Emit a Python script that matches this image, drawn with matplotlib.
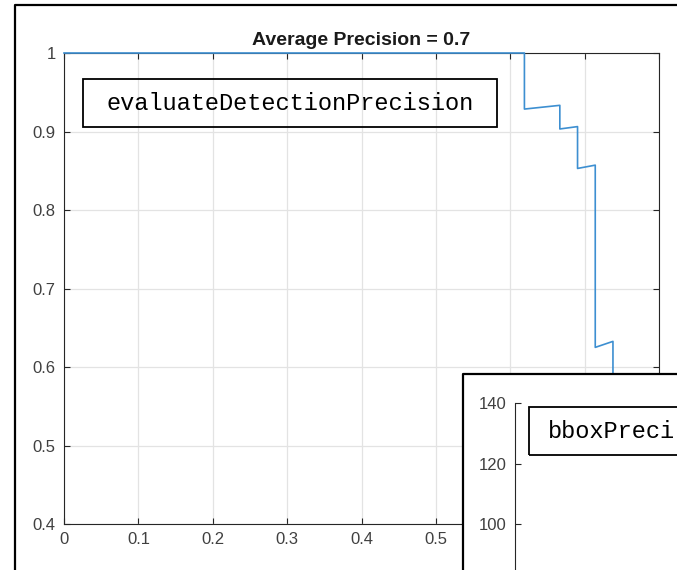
import numpy as np
import matplotlib
matplotlib.use("Agg")
import matplotlib.pyplot as plt
from matplotlib.patches import Rectangle
from matplotlib.lines import Line2D

# precision / recall points (42 ground truth boxes)
recall = [0.0, 26/42, 26/42, 28/42, 28/42, 29/42, 29/42, 30/42, 30/42, 31/42, 31/42, 33/42]
precision = [1.0, 1.0, 26/28, 28/30, 28/31, 29/32, 29/34, 30/35, 30/48, 31/49, 31/56, 33/60]
title = "Average Precision = 0.7"
xticks = [0, 0.1, 0.2, 0.3, 0.4, 0.5, 0.6, 0.7, 0.8]
xticklabels = ["0", "0.1", "0.2", "0.3", "0.4", "0.5", "0.6", "0.7", "0.8"]
yticks = [0.4, 0.5, 0.6, 0.7, 0.8, 0.9, 1.0]
yticklabels = ["0.4", "0.5", "0.6", "0.7", "0.8", "0.9", "1"]
inset_yticks = [100, 120, 140]
# second window's label, only the part visible on screen
inset_label = "bboxPreci"

W, H = 677, 570
plt.rcParams['font.family'] = ['Liberation Sans', 'DejaVu Sans']
fig = plt.figure(figsize=(W / 100, H / 100), dpi=100)

def fx(px):
    return px / W

def fy(py):
    return 1 - py / H

axcol = '#262626'
ax = fig.add_axes([fx(64), fy(524), fx(659) - fx(64), fy(53) - fy(524)])
ax.plot(recall, precision, color='#3d8fd1', lw=1.2, zorder=3, clip_on=False)
ax.set_xlim(0, 0.8)
ax.set_ylim(0.4, 1.0)
ax.set_xticks(xticks)
ax.set_xticklabels(xticklabels)
ax.set_yticks(yticks)
ax.set_yticklabels(yticklabels)
ax.grid(True, color='#e3e3e3', lw=0.9)
ax.set_axisbelow(True)
ax.tick_params(direction='in', length=4, width=0.8, color=axcol, labelcolor='#404040',
               labelsize=12, top=True, right=True, pad=6)
for s in ax.spines.values():
    s.set_color(axcol)
    s.set_linewidth(0.8)
ax.set_title(title, fontsize=14, fontweight='bold', pad=6, color='#1a1a1a')

# outer screenshot frame
fig.add_artist(Line2D([fx(15), fx(15), 1.0], [0, fy(5), fy(5)], color='black', lw=1.6,
                      transform=fig.transFigure))

# text box in main plot
fig.add_artist(Rectangle((fx(83), fy(127)), fx(497) - fx(83), fy(79) - fy(127),
                         transform=fig.transFigure, fill=False, ec='black', lw=1.3, zorder=2))
fig.text(fx(290), fy(103), "evaluateDetectionPrecision", family='Liberation Mono',
         fontsize=17, ha='center', va='center', zorder=3)

# overlapping second window
fig.add_artist(Rectangle((fx(463), 0), 1 - fx(463), fy(374), transform=fig.transFigure,
                         fc='white', ec='none', zorder=4))
fig.add_artist(Line2D([fx(463), fx(463), 1.0], [0, fy(374), fy(374)], color='black', lw=1.6,
                      transform=fig.transFigure, zorder=5))

ax2 = fig.add_axes([fx(515), fy(700), fx(900) - fx(515), fy(403) - fy(700)])
ax2.set_zorder(6)
ax2.patch.set_alpha(0)
ax2.set_ylim(140 - (700 - 403) / 3.025, 140)
ax2.set_yticks(inset_yticks)
ax2.set_xticks([])
for side in ['top', 'right', 'bottom']:
    ax2.spines[side].set_visible(False)
ax2.spines['left'].set_color(axcol)
ax2.spines['left'].set_linewidth(0.8)
ax2.tick_params(direction='in', length=4, width=0.8, color=axcol, labelcolor='#404040',
                labelsize=12, pad=6)

fig.add_artist(Rectangle((fx(529), fy(455)), fx(800) - fx(529), fy(407) - fy(455),
                         transform=fig.transFigure, fill=False, ec='black', lw=1.3, zorder=7))
fig.text(fx(548), fy(431), inset_label, family='Liberation Mono',
         fontsize=17, ha='left', va='center', zorder=8)

fig.savefig("out.png", dpi=100)
